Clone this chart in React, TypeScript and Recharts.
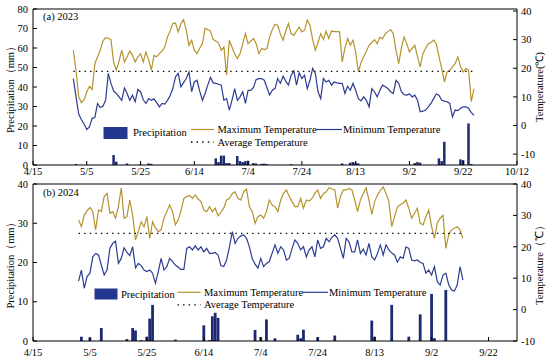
import React from "react";
import {
  ComposedChart,
  Line,
  Bar,
  XAxis,
  YAxis,
  ReferenceLine,
} from "recharts";

// day index 0 = 4/15
const tickLabels = ["4/15", "5/5", "5/25", "6/14", "7/4", "7/24", "8/13", "9/2", "9/22", "10/12"];
const tickDays2023 = [0, 20, 40, 60, 80, 100, 120, 140, 160, 180];
const tickDays2024 = [0, 20, 40, 60, 80, 100, 120, 140, 160];

const start2023 = 15;
const tmax2023 = [
  26.3, 19, 10, 8, 9, 11.7, 13.7, 12.6, 21.6, 24,
  26.3, 29.5, 30.7, 30.5, 30, 22, 19.3, 22.5, 26.3, 22.2,
  24, 26, 24.5, 22.2, 24, 25.1, 22.2, 25.7, 23, 19.3,
  24.5, 24, 25.1, 26, 27.4, 30.9, 33, 35.6, 35.8, 32.7,
  35.6, 37, 33.3, 28, 29.8, 26.3, 25.1, 27, 28.6, 33.9,
  33.5, 33, 30, 29.5, 28.8, 26.3, 27.4, 17.6, 29.8, 27.4,
  25, 23.4, 25.1, 28.5, 32.1, 28.6, 29.5, 30.4, 28.6, 25.1,
  26.9, 26.5, 26.9, 30.9, 33.5, 35.4, 35, 32, 29.8, 33,
  35.6, 32.1, 31.5, 33, 34.4, 32.7, 33.3, 36.8, 35, 30,
  26.3, 29, 32.1, 30, 33, 30.4, 33, 32.8, 32.8, 32.7,
  22.2, 27, 30.4, 28, 29.8, 25.7, 18.7, 22, 24, 26,
  28, 29, 30, 28.6, 30.9, 30.3, 32.1, 32.8, 33.5, 32.1,
  26.3, 21.6, 27, 30.9, 28.6, 25.7, 26.9, 28, 24, 20.5,
  25.1, 26.9, 28.6, 29, 29.8, 28.5, 24, 19.9, 15.2, 18.7,
  19.3, 20.5, 21.6, 24, 20.5, 18.7, 19.9, 19.3, 8.3, 12.9,
];
const tmin2023 = [
  16.4, 10, 4, 2, 0.5, -1.4, -0.5, 2.5, 2.8, 7.7,
  6.3, 6.7, 8.8, 18.2, 14.7, 12, 11.2, 10, 8.8, 13.1,
  11.2, 8.8, 10.6, 8.3, 12.6, 11.8, 9, 7.7, 9.4, 8.8,
  9.3, 8, 6.5, 7.7, 7.5, 8.8, 10.5, 12.9, 17, 18.2,
  13.5, 15, 16.4, 18.7, 11.8, 15.2, 15.8, 12, 8.8, 11.2,
  14.1, 16.8, 14.9, 14.7, 14.4, 14.1, 8.8, 9.4, 5.4, 8.8,
  12.9, 8.8, 10, 11.8, 7.7, 12.3, 12.3, 13.3, 16.1, 16.4,
  16.4, 15.8, 13.3, 10.6, 12.3, 12.9, 16.4, 14.7, 17.2, 15.5,
  14.1, 17.6, 19.1, 14.1, 18.4, 16.4, 17.6, 12.9, 15.8, 19.9,
  18.2, 11.8, 9.4, 16.4, 15.2, 15.8, 14.1, 15.2, 14.9, 14.7,
  14.7, 11.2, 13.7, 12.3, 14.7, 12.3, 9.4, 8.6, 10, 8.8,
  6.5, 12.9, 11.8, 10, 12.3, 14.1, 13.5, 12.9, 11.8, 11.2,
  15.8, 14.7, 11.8, 10.8, 10.6, 11, 10, 10.6, 8.8, 4.8,
  5, 5.4, 6.5, 7.7, 9.4, 11, 10.6, 8.8, 8.5, 8.3,
  7.7, 3, 5.4, 5.2, 6, 6.5, 6.5, 6, 4.5, 3.6,
];
const avg2023 = 18.9;
const rainDays2023 = [16, 30, 31, 35, 40, 43, 44, 68, 69, 70, 71, 72, 73, 76, 77, 78, 79, 80, 82, 83, 85, 86, 87, 96, 115, 118, 119, 120, 121, 142, 143, 144, 151, 152, 153, 159, 160, 162, 163];
const rainValues2023 = [0.5, 5.1, 1.7, 0.8, 0.3, 0.8, 0.6, 3.4, 1.5, 4.8, 4.8, 1, 1, 4.6, 2, 1.5, 2, 2.2, 1, 0.8, 0.6, 0.7, 0.5, 0.4, 0.8, 1.2, 1.5, 1.2, 0.8, 1, 1.5, 1.2, 3.4, 2, 11.9, 2.9, 2.5, 21.3, 0.5];

const start2024 = 16;
const tmax2024 = [
  28.5, 26.4, 30.1, 31.5, 32.5, 31.2, 25.4, 31.7, 31.2, 36,
  37, 30.7, 31.2, 29.1, 32.8, 38.8, 29.1, 29.6, 34.9, 30.1,
  22.2, 24.8, 28, 26.4, 29.6, 22.7, 28, 26, 24.8, 25.4,
  29.1, 31.2, 33.3, 31.2, 27, 28.5, 31.7, 35.4, 36, 36.3,
  35.4, 36.5, 35.2, 34.4, 31.7, 31.2, 32.8, 31.2, 32.3, 29.9,
  31, 32.3, 34.9, 35.4, 37, 37.5, 35.4, 34.9, 37.5, 38.4,
  32.8, 31.2, 27.5, 29.6, 30.1, 29.1, 31.2, 34.9, 33.3, 32.8,
  31.2, 34.9, 37, 38.1, 36, 34.4, 32.8, 32.8, 35.4, 32.3,
  34.9, 34.6, 35.4, 37, 38.1, 35.4, 37, 37.5, 38.8, 38.4,
  38.1, 32.3, 36, 38.1, 38.1, 38.6, 38.1, 34.9, 31.2, 34.9,
  37, 38.8, 34.9, 30.3, 34.4, 36.5, 38, 39.1, 37, 34.4,
  26.4, 29.6, 32.8, 33.4, 33.9, 34.9, 32.3, 29.1, 30.7, 32.3,
  27.5, 27, 29.6, 31.7, 26.4, 22.7, 27.5, 29.1, 30.1, 19.5,
  23.8, 25.4, 25.9, 26.4, 25.4, 22.7,
];
const tmin2024 = [
  9.1, 12.6, 6.8, 10.5, 11.6, 16.8, 17.9, 17.4, 14.2, 11,
  12.6, 19.5, 21.1, 21.8, 14.7, 16.3, 19.7, 18.2, 17.2, 20,
  13.3, 14.7, 14, 12.6, 12.1, 12.6, 11.6, 8.4, 12.1, 16.3,
  12.6, 13.7, 16.3, 15.3, 14.2, 13.5, 12.8, 12.8, 19.5, 20,
  19, 20.3, 19, 20, 18.4, 19.5, 17.9, 17.9, 18.2, 17.4,
  14, 13.7, 15.8, 20, 24.8, 21.1, 22.7, 23.5, 23.8, 22.7,
  20, 16.3, 14.5, 13.2, 16.3, 13.7, 14.7, 15.3, 18, 20.6,
  17.9, 20, 19, 15.8, 16.3, 19.5, 22.2, 21.1, 19, 20,
  16.8, 19, 20, 16.8, 22.2, 19.5, 20, 22.7, 21.6, 23,
  23.8, 22.7, 19.5, 16.3, 22.7, 21.6, 18.4, 18.4, 22.2, 17.9,
  19.3, 17.4, 21.1, 16.8, 15.8, 17.9, 20.6, 17.4, 20.6, 19,
  18, 17.4, 15.1, 16.8, 16.3, 20, 19.5, 15.8, 15.5, 15.8,
  15, 14.7, 11.6, 12.6, 11, 13.7, 8.9, 7.8, 11, 11.6,
  8, 6.2, 5.9, 7.8, 13.7, 9.4,
];
const avg2024 = 24.3;
const rainDays2024 = [17, 20, 24, 33, 35, 36, 38, 40, 41, 42, 50, 60, 62, 63, 64, 65, 78, 80, 82, 85, 93, 94, 95, 100, 106, 119, 120, 126, 132, 136, 140, 141, 145];
const rainValues2024 = [1.1, 0.9, 3.3, 0.5, 3.3, 2.7, 0.2, 1.1, 5.7, 9.2, 0.35, 4, 0.2, 6.3, 7.2, 5.9, 2.8, 1, 5.5, 0.7, 1.6, 0.7, 2.9, 1, 1.4, 5.2, 1.1, 9.2, 1.1, 6.8, 12, 0.7, 13];

const MAX_COLOR = "#B5932F";
const MIN_COLOR = "#2C3C92";
const BAR_COLOR = "#1D2A72";
const FONT = "'Liberation Serif', 'Times New Roman', serif";

function buildRows(start: number, tmax: number[], tmin: number[], avg: number, rainDays: number[], rainValues: number[]) {
  return tmax.map((v, i) => {
    const day = start + i;
    const k = rainDays.indexOf(day);
    return { day, tmax: v, tmin: tmin[i], avg, rain: k >= 0 ? rainValues[k] : null };
  });
}

const rows2023 = buildRows(start2023, tmax2023, tmin2023, avg2023, rainDays2023, rainValues2023);
const rows2024 = buildRows(start2024, tmax2024, tmin2024, avg2024, rainDays2024, rainValues2024);

const tickStyle = { fontSize: 10.5, fill: "#000", fontFamily: FONT };
const titleStyle = { fontSize: 10.5, fill: "#000", fontFamily: FONT };

type PanelProps = {
  data: any[];
  height: number;
  marginTop: number;
  xHeight: number;
  xMax: number;
  xTicks: number[];
  xTickMargin: number;
  leftMax: number;
  leftTicks: number[];
  rightDomain: [number, number];
  rightTicks: number[];
  leftTitle: string;
  rightTitle: string;
  barSize: number;
};

const Panel = (p: PanelProps) => {
  return (
    <ComposedChart
      width={550}
      height={p.height}
      data={p.data}
      margin={{ top: p.marginTop, right: 0, left: 0, bottom: 0 }}
    >
      <XAxis
        dataKey="day"
        type="number"
        domain={[0, p.xMax]}
        ticks={p.xTicks}
        interval={0}
        allowDataOverflow
        tickFormatter={(d: number) => tickLabels[d / 20]}
        height={p.xHeight}
        tickSize={-4}
        tickMargin={p.xTickMargin}
        tick={tickStyle}
        axisLine={{ stroke: "#000" }}
        tickLine={{ stroke: "#000" }}
      />
      <YAxis
        yAxisId="left"
        width={33}
        domain={[0, p.leftMax]}
        ticks={p.leftTicks}
        interval={0}
        allowDataOverflow
        tickSize={-4}
        tickMargin={9}
        tick={tickStyle}
        axisLine={{ stroke: "#000" }}
        tickLine={{ stroke: "#000" }}
        label={{ value: p.leftTitle, angle: -90, position: "center", dx: -6, ...titleStyle }}
      />
      <YAxis
        yAxisId="right"
        orientation="right"
        width={33}
        domain={p.rightDomain}
        ticks={p.rightTicks}
        interval={0}
        allowDataOverflow
        tickSize={-4}
        tickMargin={8}
        tick={tickStyle}
        axisLine={{ stroke: "#000" }}
        tickLine={{ stroke: "#000" }}
        label={{ value: p.rightTitle, angle: -90, position: "center", dx: 6, ...titleStyle }}
      />
      <ReferenceLine yAxisId="left" y={p.leftMax} stroke="#000" />
      <Bar dataKey="rain" yAxisId="left" fill={BAR_COLOR} barSize={p.barSize} isAnimationActive={false} />
      <Line type="linear" dataKey="tmax" yAxisId="right" stroke={MAX_COLOR} strokeWidth={1.2} dot={false} isAnimationActive={false} />
      <Line type="linear" dataKey="tmin" yAxisId="right" stroke={MIN_COLOR} strokeWidth={1.2} dot={false} isAnimationActive={false} />
      <Line type="linear" dataKey="avg" yAxisId="right" stroke="#000" strokeWidth={1.3} strokeDasharray="1.4 4.2" dot={false} isAnimationActive={false} />
    </ComposedChart>
  );
};

const LegendBlock = ({ y, swatch, precX, lineX, minX }: { y: number; swatch: [number, number, number, number]; precX: number; lineX: number; minX: number }) => {
  const txt = { fontSize: 10.5, fontFamily: FONT, fill: "#000", dominantBaseline: "central" as const };
  return (
    <g>
      <rect x={swatch[0]} y={swatch[1]} width={swatch[2]} height={swatch[3]} fill="#24378E" />
      <text x={precX} y={y + 2.5} {...txt}>Precipitation</text>
      <line x1={lineX} x2={lineX + 23} y1={y} y2={y} stroke={MAX_COLOR} strokeWidth={1.2} />
      <text x={lineX + 26.5} y={y} {...txt}>Maximum Temperature</text>
      <line x1={minX} x2={minX + 26} y1={y} y2={y} stroke={MIN_COLOR} strokeWidth={1.2} />
      <text x={minX + 27} y={y} {...txt}>Minimum Temperature</text>
      <line x1={lineX} x2={lineX + 23} y1={y + 12.5} y2={y + 12.5} stroke="#000" strokeWidth={1.3} strokeDasharray="1.4 4.2" />
      <text x={lineX + 26.5} y={y + 12.5} {...txt}>Average Temperature</text>
    </g>
  );
};

export default function App() {
  return (
    <div style={{ position: "absolute", left: 0, top: 0, width: 550, height: 359, background: "#fff" }}>
      <Panel
        data={rows2023}
        height={178}
        marginTop={9}
        xHeight={13}
        xMax={180}
        xTicks={tickDays2023}
        xTickMargin={7}
        leftMax={80}
        leftTicks={[0, 10, 20, 30, 40, 50, 60, 70, 80]}
        rightDomain={[-13.8, 40.7]}
        rightTicks={[-10, 0, 10, 20, 30, 40]}
        leftTitle="Precipitation（mm）"
        rightTitle="Temperature(℃)"
        barSize={2.5}
      />
      <Panel
        data={rows2024}
        height={181}
        marginTop={6}
        xHeight={18}
        xMax={170}
        xTicks={tickDays2024}
        xTickMargin={11.7}
        leftMax={40}
        leftTicks={[0, 10, 20, 30, 40]}
        rightDomain={[-10, 40]}
        rightTicks={[-10, 0, 10, 20, 30, 40]}
        leftTitle="Precipitation（mm）"
        rightTitle="Temperature（℃）"
        barSize={2.8}
      />
      <svg width={550} height={359} style={{ position: "absolute", left: 0, top: 0, pointerEvents: "none" }}>
        <text x={43} y={16} fontSize={10.5} fontFamily={FONT} dominantBaseline="central">(a) 2023</text>
        <text x={43} y={192} fontSize={10.5} fontFamily={FONT} dominantBaseline="central">(b) 2024</text>
        <LegendBlock y={129.5} swatch={[103.5, 127, 24, 12]} precX={133} lineX={191} minX={316} />
        <LegendBlock y={292.3} swatch={[94.5, 288.5, 23, 11]} precX={121} lineX={177.5} minX={302} />
      </svg>
    </div>
  );
}
